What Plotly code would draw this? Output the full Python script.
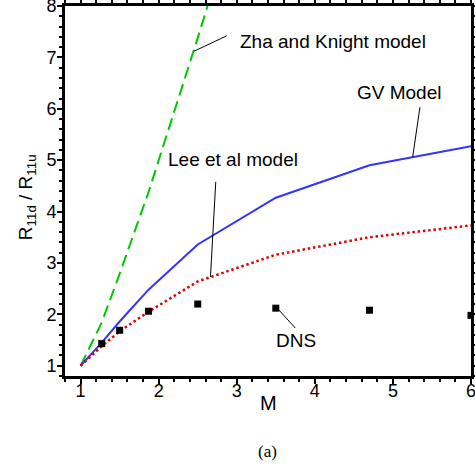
import plotly.graph_objects as go

# Mach number samples
mach = [1.0, 1.27, 1.5, 1.87, 2.5, 3.5, 4.7, 6.0]

# Model predictions of R11d / R11u
gv_model = [1.0, 1.45, 1.86, 2.48, 3.36, 4.27, 4.90, 5.27]
lee_model = [1.0, 1.38, 1.67, 2.05, 2.64, 3.16, 3.50, 3.73]
zha_mach = [1.0, 1.27, 1.5, 1.87, 2.5, 3.5]
zha_model = [1.0, 1.84, 2.79, 4.38, 7.38, 12.3]

# DNS data
dns_mach = [1.27, 1.5, 1.87, 2.5, 3.5, 4.7, 6.0]
dns_ratio = [1.43, 1.69, 2.06, 2.20, 2.12, 2.08, 1.98]

# Labels: (text, text x, text y, leader start x, y, leader end x, y)
labels = [
    ("Zha and Knight model", 4.23, 7.31, 2.872, 7.42, 2.453, 7.12),
    ("Lee et al model", 2.953, 5.015, 2.731, 4.578, 2.663, 2.725),
    ("GV Model", 5.083, 6.314, 5.346, 6.03, 5.253, 5.06),
    ("DNS", 3.763, 1.482, 3.517, 2.122, 3.75, 1.733),
]

FONT = "Liberation Sans, Arial, Helvetica, sans-serif"

fig = go.Figure()

fig.add_trace(go.Scatter(
    x=zha_mach, y=zha_model, mode="lines",
    line=dict(color="#00c800", width=2, dash="12px,6px"),
    showlegend=False,
))
fig.add_trace(go.Scatter(
    x=mach, y=gv_model, mode="lines",
    line=dict(color="#3333ff", width=2),
    showlegend=False,
))
fig.add_trace(go.Scatter(
    x=mach, y=lee_model, mode="lines",
    line=dict(color="#e00000", width=2.5, dash="2.5px,2.8px"),
    showlegend=False,
))
fig.add_trace(go.Scatter(
    x=dns_mach, y=dns_ratio, mode="markers",
    marker=dict(symbol="square", size=7, color="black"),
    showlegend=False,
))

for text, tx, ty, x0, y0, x1, y1 in labels:
    fig.add_shape(type="line", xref="x", yref="y", x0=x0, y0=y0, x1=x1, y1=y1,
                  line=dict(color="black", width=1))
    fig.add_annotation(x=tx, y=ty, xref="x", yref="y", text=text,
                       showarrow=False, xanchor="center", yanchor="middle",
                       font=dict(family=FONT, size=19, color="black"))

# Axis titles and panel caption
fig.add_annotation(x=-0.093, y=0.484, xref="paper", yref="paper",
                   text="R<sub>11d</sub> / R<sub>11u</sub>", textangle=-90,
                   showarrow=False, xanchor="center", yanchor="middle",
                   font=dict(family=FONT, size=19, color="black"))
fig.add_annotation(x=0.5, y=-0.072, xref="paper", yref="paper", text="M",
                   showarrow=False, xanchor="center", yanchor="middle",
                   font=dict(family=FONT, size=20, color="black"))
fig.add_annotation(x=0.4995, y=-0.204, xref="paper", yref="paper", text="(a)",
                   showarrow=False, xanchor="center", yanchor="middle",
                   font=dict(family="Liberation Serif, Times New Roman, serif",
                             size=17, color="black"))

axis_common = dict(
    automargin=False, ticklabeloverflow="allow",
    showgrid=True, gridcolor="rgba(0,0,0,0)", zeroline=False,
    showline=True, linecolor="black", linewidth=3, mirror="allticks",
    ticks="outside", ticklen=5, tickwidth=2, tickcolor="black",
    tickfont=dict(family=FONT, size=18, color="black"),
    tickmode="linear", tick0=1, dtick=1,
    minor=dict(ticks="outside", ticklen=3, tickwidth=1.5, tickcolor="black",
               dtick=0.2, tick0=1, showgrid=False),
)

fig.update_xaxes(range=[0.8, 6.0001], ticklabelstandoff=-9, **axis_common)
fig.update_yaxes(range=[0.8, 8.0001], ticklabelstandoff=-3, **axis_common)

fig.update_layout(
    width=475, height=467,
    margin=dict(l=65, r=4, t=6, b=91),
    paper_bgcolor="white", plot_bgcolor="white",
)

fig.write_html("out.html")
